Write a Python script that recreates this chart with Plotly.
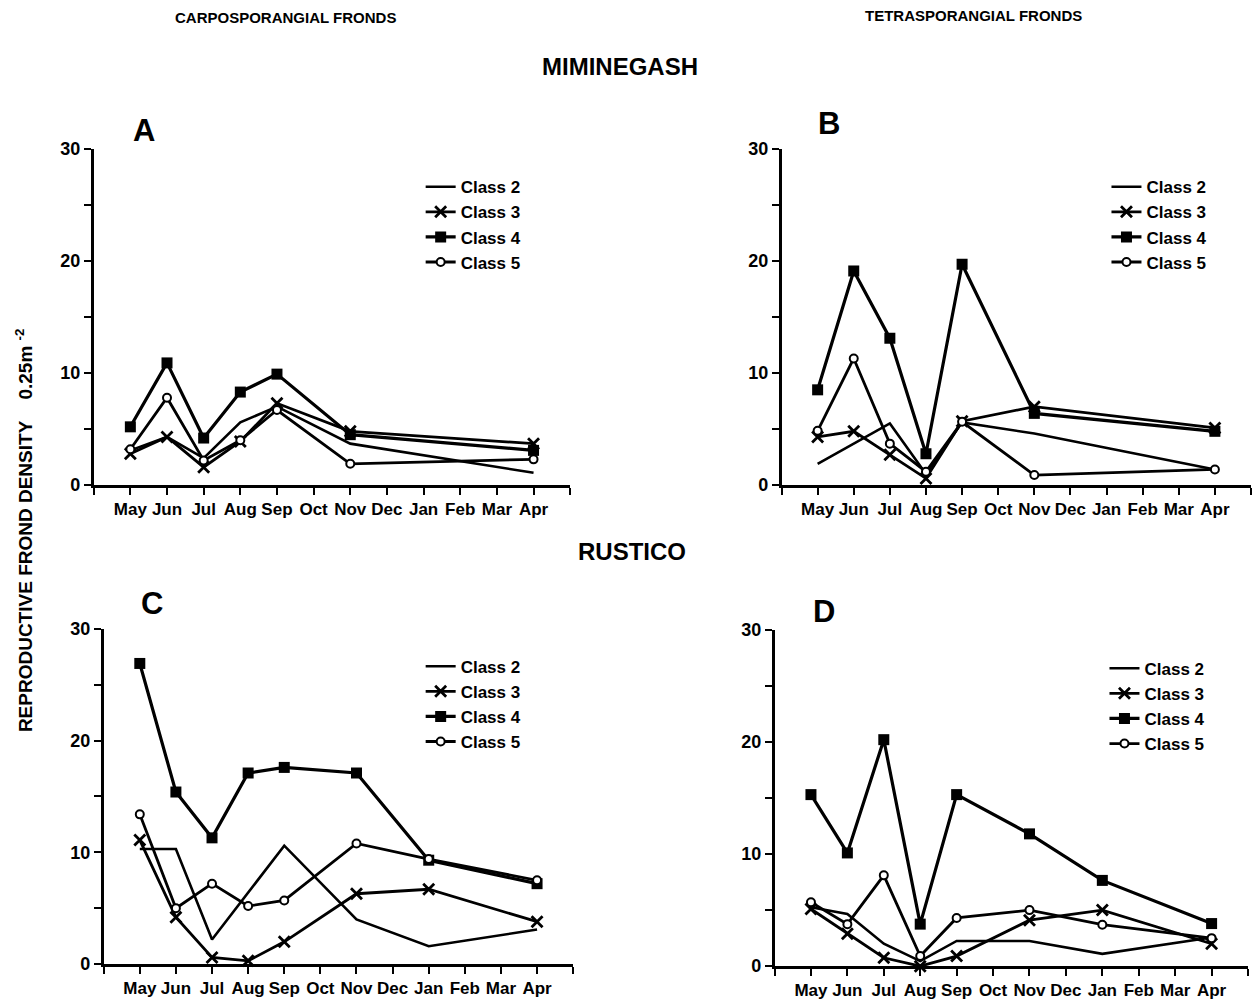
import plotly.graph_objects as go

W, H = 1256, 1005

months = ["May", "Jun", "Jul", "Aug", "Sep", "Oct", "Nov", "Dec", "Jan", "Feb", "Mar", "Apr"]
class_names = ["Class 2", "Class 3", "Class 4", "Class 5"]

# Panel A - Miminegash, carposporangial fronds
A_class2 = [3.1, 4.3, 2.4, 5.6, 7.0, None, 3.7, None, None, None, None, 1.1]
A_class3 = [2.8, 4.3, 1.6, 3.9, 7.3, None, 4.8, None, None, None, None, 3.7]
A_class4 = [5.2, 10.9, 4.2, 8.3, 9.9, None, 4.5, None, None, None, None, 3.1]
A_class5 = [3.2, 7.8, 2.2, 4.0, 6.7, None, 1.9, None, None, None, None, 2.3]

# Panel B - Miminegash, tetrasporangial fronds
B_class2 = [1.9, None, 5.5, 1.0, 5.6, None, 4.6, None, None, None, None, 1.4]
B_class3 = [4.3, 4.8, 2.7, 0.6, 5.7, None, 7.0, None, None, None, None, 5.1]
B_class4 = [8.5, 19.1, 13.1, 2.8, 19.7, None, 6.4, None, None, None, None, 4.8]
B_class5 = [4.85, 11.3, 3.7, 1.2, 5.65, None, 0.9, None, None, None, None, 1.4]

# Panel C - Rustico, carposporangial fronds
C_class2 = [10.3, 10.3, 2.2, None, 10.6, None, 4.0, None, 1.6, None, None, 3.1]
C_class3 = [11.1, 4.2, 0.6, 0.3, 2.0, None, 6.3, None, 6.7, None, None, 3.8]
C_class4 = [26.9, 15.4, 11.3, 17.1, 17.6, None, 17.1, None, 9.3, None, None, 7.2]
C_class5 = [13.4, 5.0, 7.2, 5.2, 5.7, None, 10.8, None, 9.4, None, None, 7.5]

# Panel D - Rustico, tetrasporangial fronds
D_class2 = [5.25, 4.65, 2.0, 0.45, 2.25, None, 2.25, None, 1.1, None, None, 2.55]
D_class3 = [5.1, 2.9, 0.75, 0.0, 0.9, None, 4.1, None, 5.0, None, None, 2.0]
D_class4 = [15.3, 10.1, 20.2, 3.75, 15.3, None, 11.8, None, 7.65, None, None, 3.8]
D_class5 = [5.7, 3.75, 8.1, 0.9, 4.3, None, 5.0, None, 3.7, None, None, 2.5]

panel_letters = ["A", "B", "C", "D"]
y_tickvals = [0, 5, 10, 15, 20, 25, 30]
y_ticktext = ["0", "", "10", "", "20", "", "30"]

FONT = "Liberation Sans, Arial, Helvetica, sans-serif"

# vertical calibration between target-picture pixels and page pixels
Y_OFF, Y_SCALE = 10.4, 0.979


def ry(py):
    return (py - Y_OFF) / Y_SCALE


def fx(px):
    return min(max(px / W, 0.0), 1.0)


def fy(py):
    return min(max(1 - ry(py) / H, 0.0), 1.0)


panels = [
    dict(data=[A_class2, A_class3, A_class4, A_class5], xpx=(92, 570), ypx=(149, 485),
         letter=(142, 131), legend=(420, 186)),
    dict(data=[B_class2, B_class3, B_class4, B_class5], xpx=(782, 1253), ypx=(149, 485),
         letter=(830, 124), legend=(1108, 186)),
    dict(data=[C_class2, C_class3, C_class4, C_class5], xpx=(102, 573), ypx=(628.5, 963.5),
         letter=(150, 603), legend=(420, 665)),
    dict(data=[D_class2, D_class3, D_class4, D_class5], xpx=(775, 1250), ypx=(629.5, 965.5),
         letter=(825, 611), legend=(1106, 667)),
]

styles = [
    dict(mode="lines", line=dict(color="black", width=2.6)),
    dict(mode="lines+markers", line=dict(color="black", width=2.8),
         marker=dict(symbol="x-thin", size=11, color="black", line=dict(color="black", width=2.8))),
    dict(mode="lines+markers", line=dict(color="black", width=3.2),
         marker=dict(symbol="square", size=11, color="black", line=dict(color="black", width=0))),
    dict(mode="lines+markers", line=dict(color="black", width=2.8),
         marker=dict(symbol="circle", size=8, color="white", line=dict(color="black", width=2))),
]

xpos = list(range(1, len(months) + 1))

fig = go.Figure()
annotations = []
layout = {}

for i, p in enumerate(panels):
    n = "" if i == 0 else str(i + 1)
    lg = "legend" if i == 0 else "legend" + str(i + 1)
    for k, series in enumerate(p["data"]):
        st = styles[k]
        fig.add_trace(go.Scatter(
            x=xpos, y=series, name=class_names[k], mode=st["mode"], line=st["line"],
            marker=st.get("marker"), connectgaps=True, cliponaxis=False,
            xaxis="x" + n, yaxis="y" + n, legend=lg, showlegend=True,
        ))
    x0, x1 = p["xpx"]
    y0, y1 = p["ypx"]
    layout["xaxis" + n] = dict(
        domain=[fx(x0), fx(x1)], anchor="y" + n, range=[0, 13],
        tickmode="array", tickvals=list(range(0, 14)), ticktext=[" "] + months + [" "],
        ticks="outside", ticklen=7, tickwidth=2, tickcolor="black",
        showline=True, linecolor="black", linewidth=2.5, showgrid=False, zeroline=False,
        tickfont=dict(family=FONT, size=17, color="black", weight="bold"), fixedrange=True,
    )
    layout["yaxis" + n] = dict(
        domain=[fy(y1), fy(y0)], anchor="x" + n, range=[0, 30],
        tickmode="array", tickvals=y_tickvals, ticktext=y_ticktext,
        ticks="outside", ticklen=7, tickwidth=2, tickcolor="black",
        showline=True, linecolor="black", linewidth=2.5, showgrid=False, zeroline=False,
        tickfont=dict(family=FONT, size=18, color="black", weight="bold"), fixedrange=True,
    )
    lx, lrow = p["legend"]
    layout[lg] = dict(
        x=fx(lx), y=1 - (ry(lrow) - 17) / H, xanchor="left", yanchor="top",
        xref="paper", yref="paper",
        bgcolor="rgba(0,0,0,0)", borderwidth=0, tracegroupgap=0,
        font=dict(family=FONT, size=17, color="black", weight="bold"),
    )
    cx, cy = p["letter"]
    annotations.append(dict(
        text=panel_letters[i], x=fx(cx), y=fy(cy), xref="paper", yref="paper",
        showarrow=False, xanchor="center", yanchor="middle",
        font=dict(family=FONT, size=31, color="black", weight="bold"),
    ))

headers = [
    ("CARPOSPORANGIAL FRONDS", 284, 18, 15),
    ("TETRASPORANGIAL FRONDS", 975, 16, 15),
    ("MIMINEGASH", 620, 67, 24),
    ("RUSTICO", 632, 551, 24),
]
for txt, cx, cy, sz in headers:
    annotations.append(dict(
        text=txt, x=fx(cx), y=fy(cy), xref="paper", yref="paper", showarrow=False,
        xanchor="center", yanchor="middle",
        font=dict(family=FONT, size=sz, color="black", weight="bold"),
    ))

annotations.append(dict(
    text="REPRODUCTIVE FROND DENSITY\u00a0\u00a0\u00a0\u00a00.25m\u00a0<sup>-2</sup>", textangle=-90,
    x=fx(22), y=fy(530), xref="paper", yref="paper", showarrow=False,
    xanchor="center", yanchor="middle",
    font=dict(family=FONT, size=19, color="black", weight="bold"),
))

fig.update_layout(
    width=W, height=H, margin=dict(l=0, r=0, t=0, b=0),
    paper_bgcolor="white", plot_bgcolor="white",
    annotations=annotations, **layout,
)

fig.write_html("out.html", config={"displayModeBar": False},
               post_script="document.body.style.margin='0';"
                           "document.documentElement.style.overflow='hidden';"
                           "document.body.style.overflow='hidden';")
